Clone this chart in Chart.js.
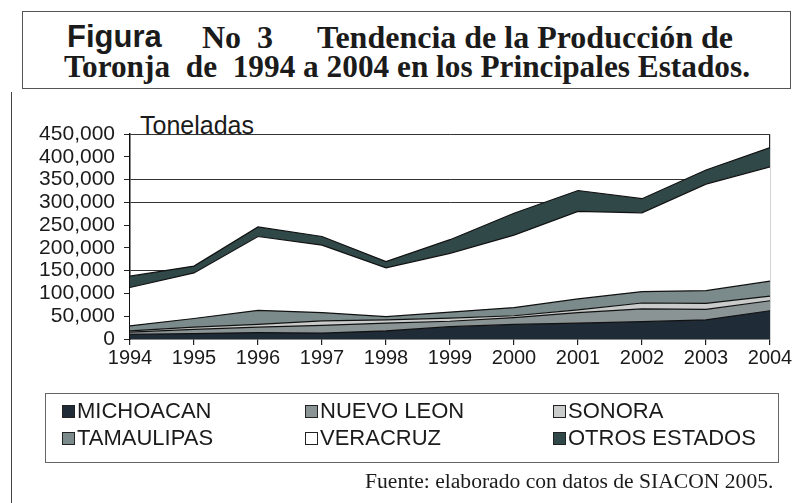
<!DOCTYPE html>
<html>
<head>
<meta charset="utf-8">
<script src="https://cdn.jsdelivr.net/npm/chart.js@4.4.1/dist/chart.umd.min.js"></script>
<style>
  html, body { margin: 0; padding: 0; background: #fff; }
  body { width: 808px; height: 503px; position: relative; overflow: hidden; font-family: "Liberation Sans", Arial, sans-serif; }
  #c { position: absolute; left: 0; top: 0; }
  .abs { position: absolute; white-space: pre; color: #1b1b1b; }
  .serif { font-family: "Liberation Serif", "Times New Roman", serif; }
  #titlebox { position: absolute; left: 22px; top: 11px; width: 767px; height: 76px; border: 1px solid #555; }
  #leftline { position: absolute; left: 11px; top: 92px; width: 1px; height: 411px; background: #444; }
  #legend { position: absolute; left: 45px; top: 393px; width: 732px; height: 68px; border: 1px solid #666; }
  .li { position: absolute; font-size: 22px; line-height: 24px; color: #1b1b1b; font-family: "Liberation Sans", Arial, sans-serif; }
  .sw { display: inline-block; width: 11px; height: 11px; border: 1px solid #222; margin-right: 2px; vertical-align: 0px; }
</style>
</head>
<body>
<div id="titlebox"></div>
<div id="leftline"></div>
<div class="abs" style="left:67px; top:19px; font: bold 31px 'Liberation Sans', Arial, sans-serif;">Figura</div>
<div class="abs serif" style="left:202px; top:19px; font-weight:bold; font-size:32px;">No  3</div>
<div class="abs serif" style="left:317px; top:19px; font-weight:bold; font-size:32px;">Tendencia de la Producción de</div>
<div class="abs serif" style="left:64px; top:49px; font-weight:bold; font-size:31.3px;">Toronja  de  1994 a 2004 en los Principales Estados.</div>
<div class="abs" style="left:140px; top:111px; font-size:25px; font-family:'Liberation Sans', Arial, sans-serif;">Toneladas</div>
<canvas id="c" width="808" height="503"></canvas>
<div id="legend"></div>
<div class="abs serif" style="left:365px; top:469px; font-size:21.6px;">Fuente: elaborado con datos de SIACON 2005.</div>
<script>
// ---- Data (toneladas) ----
const years = ['1994','1995','1996','1997','1998','1999','2000','2001','2002','2003','2004'];
const seriesNames = ['MICHOACAN','NUEVO LEON','SONORA','TAMAULIPAS','VERACRUZ','OTROS ESTADOS'];
const michoacan  = [10000, 12000, 14000, 13000, 18000, 27000, 32000, 35000, 38000, 42000, 62000];
const nuevoLeon  = [5000, 9000, 12000, 17000, 17000, 12000, 15000, 23000, 28000, 23000, 22000];
const sonora     = [3000, 5000, 6000, 10000, 7000, 7000, 4000, 6000, 13000, 13000, 10000];
const tamaulipas = [11000, 19000, 31000, 18000, 7000, 13000, 18000, 24000, 25000, 28000, 33000];
const veracruz   = [84000, 100000, 162000, 148000, 107000, 129000, 159000, 192000, 173000, 234000, 251000];
const otros      = [25000, 15000, 21000, 19000, 14000, 30000, 48000, 46000, 31000, 31000, 42000];
const yTicks = [0, 50000, 100000, 150000, 200000, 250000, 300000, 350000, 400000, 450000];
const visibleGrid = [150000, 300000, 350000, 450000];

const seriesValues = [michoacan, nuevoLeon, sonora, tamaulipas, veracruz, otros];
const colors = ['#1f2b36', '#8b9495', '#c9cccb', '#7b8a8a', '#ffffff', '#314848'];

const datasets = seriesValues.map((vals, i) => ({
  label: seriesNames[i],
  data: vals,
  backgroundColor: colors[i],
  borderColor: '#111',
  borderWidth: 1.2,
  pointRadius: 0,
  tension: 0,
  fill: i === 0 ? 'origin' : '-1'
}));

new Chart(document.getElementById('c'), {
  type: 'line',
  data: { labels: years, datasets },
  options: {
    responsive: false,
    animation: false,
    layout: { padding: { left: 0, right: 38, top: 134, bottom: 134 } },
    plugins: { legend: { display: false }, tooltip: { enabled: false } },
    scales: {
      x: {
        offset: false,
        afterFit: s => { s.height = 30; },
        border: { color: '#111', width: 1.5 },
        grid: {
          color: ctx => ctx.index === years.length - 1 ? '#222' : 'rgba(0,0,0,0)',
          tickColor: '#222', tickLength: 6, lineWidth: 1.2
        },
        ticks: { color: '#1b1b1b', font: { family: "'Liberation Sans', Arial, sans-serif", size: 20 }, padding: 1, maxRotation: 0, autoSkip: false }
      },
      y: {
        stacked: true,
        min: 0, max: 450000,
        afterBuildTicks: s => { s.ticks = yTicks.map(v => ({ value: v })); },
        afterFit: s => { s.width = 130; },
        border: { color: '#111', width: 1.5 },
        grid: {
          color: ctx => (ctx.tick && visibleGrid.includes(ctx.tick.value)) ? '#333' : 'rgba(0,0,0,0)',
          tickColor: '#222', tickLength: 6, lineWidth: 1
        },
        ticks: {
          color: '#1b1b1b', padding: 9, autoSkip: false,
          font: { family: "'Liberation Sans', Arial, sans-serif", size: 21 },
          callback: v => v.toLocaleString('en-US')
        }
      }
    }
  }
});

// HTML legend built from the series
const legend = document.getElementById('legend');
const colX = [16, 259, 507];
const rowY = [5, 32];
seriesNames.forEach((name, i) => {
  const d = document.createElement('div');
  d.className = 'li';
  d.style.left = colX[i % 3] + 'px';
  d.style.top = rowY[Math.floor(i / 3)] + 'px';
  d.innerHTML = '<span class="sw" style="background:' + colors[i] + '"></span>' + name;
  legend.appendChild(d);
});
</script>
</body>
</html>
